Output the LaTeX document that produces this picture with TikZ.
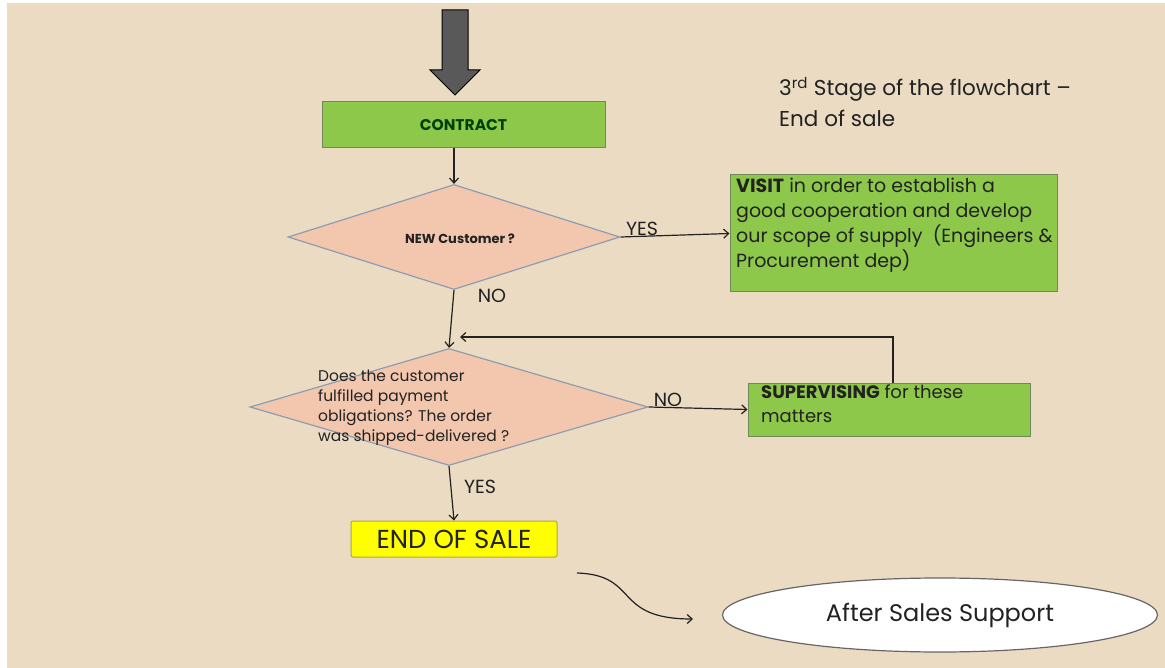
\documentclass[tikz,border=0pt]{standalone}
\usepackage{fontspec}
\setmainfont{Poppins}
\usetikzlibrary{shapes.geometric,arrows.meta}
\definecolor{sand}{HTML}{EBDBC3}
\definecolor{leaf}{HTML}{8DC84B}
\definecolor{leafline}{HTML}{6E8A5A}
\definecolor{peach}{HTML}{F3C7AE}
\definecolor{slateline}{HTML}{8D9DAE}
\definecolor{lemon}{HTML}{FFFF00}
\definecolor{ink}{HTML}{222222}
\tikzset{
  greenbox/.style={draw=leafline,fill=leaf,line width=1pt,inner sep=0pt},
  decision/.style={diamond,draw=slateline,fill=peach,line width=1.2pt,inner sep=0pt},
  flow/.style={-{Straight Barb[length=5pt,width=9pt]},line width=1.2pt,ink},
  lab/.style={font=\fontsize{19}{19}\selectfont,text=ink,inner sep=0pt}
}
\begin{document}
\begin{tikzpicture}[x=1pt,y=-1pt]
		\fill[white] (0,0) rectangle (1165,668);
		\fill[sand] (7,3) rectangle (1165,668);
		\useasboundingbox (0,0) rectangle (1165,668);
		% big arrow on top
		\draw[fill=black!65,line width=1pt] (442,10)--(468,10)--(468,70)--(480,70)--(455,95)--(430,70)--(442,70)--cycle;
		% boxes
		\node[greenbox,minimum width=283,minimum height=46,font=\bfseries\fontsize{15.5}{15.5}\selectfont,text=green!25!black] (contract) at (463.5,125) {CONTRACT};
		\node[decision,minimum width=332,minimum height=105] (newc) at (454,237) {};
		\node[font=\bfseries\fontsize{13}{13}\selectfont,text=ink] (newct) at (460,239) {NEW Customer ?};
		\node[greenbox,minimum width=327,minimum height=117] (visit) at (893.5,233.5) {};
		\node[align=left,font=\fontsize{19}{25}\selectfont,text=ink,inner sep=0pt,anchor=north west] (visitt) at (736,178)
		{\textbf{VISIT} in order to establish a\\ good cooperation and develop\\ our scope of supply~~(Engineers \&\\ Procurement dep)};
		\node[decision,minimum width=398,minimum height=117] (pay) at (449,407) {};
		\node[align=left,font=\fontsize{15.5}{20}\selectfont,text=ink,inner sep=0pt,anchor=west] (payt) at (318,408)
		{Does the customer\\ fulfilled payment\\ obligations? The order\\ was shipped-delivered ?};
		\node[greenbox,minimum width=282,minimum height=53] (sup) at (889,409.5) {};
		\node[align=left,font=\fontsize{18}{24}\selectfont,text=ink,inner sep=0pt,anchor=north west] (supt) at (761,385)
		{\textbf{SUPERVISING} for these\\ matters};
		\node[draw=olive!70,fill=lemon,line width=1pt,rounded corners=2pt,minimum width=206,minimum height=36,inner sep=0pt,font=\fontsize{26}{26}\selectfont,text=ink] (endsale) at (454,539) {END OF SALE};
		\node[ellipse,draw=black!60,fill=white,line width=1.2pt,minimum width=435,minimum height=74,inner sep=0pt,font=\fontsize{24}{24}\selectfont,text=ink] (after) at (940,615) {After Sales Support};
		% title
		\node[align=left,anchor=north west,font=\fontsize{21.5}{31}\selectfont,text=ink,inner sep=0pt] (title) at (779,77)
		{3\textsuperscript{rd} Stage of the flowchart --\\ End of sale};
		% connectors
		\draw[flow] (contract.south -| newc.north) -- (newc.north);
		\draw[flow] (newc.east) -- (visit.west);
		\draw[flow] (newc.south) -- (pay.north);
		\draw[flow] (pay.east) -- (sup.west);
		\draw[flow] (pay.south) -- (endsale.north);
		\coordinate (fbtop) at (893,337);
		\coordinate (fbend) at (460,337);
		\draw[flow] (sup.north -| fbtop) -- (fbtop) -- (fbend);
		\coordinate (wavy) at (577,573);
		\coordinate (wavyend) at (693,619);
		\draw[flow] (wavy) .. controls (640,575) and (612,619) .. (wavyend);
		% labels
		\node[lab] (yes1) at (642,229) {YES};
		\node[lab] (no1) at (492,296) {NO};
		\node[lab] (no2) at (668,400) {NO};
		\node[lab] (yes2) at (480,487) {YES};
\end{tikzpicture}
\end{document}
